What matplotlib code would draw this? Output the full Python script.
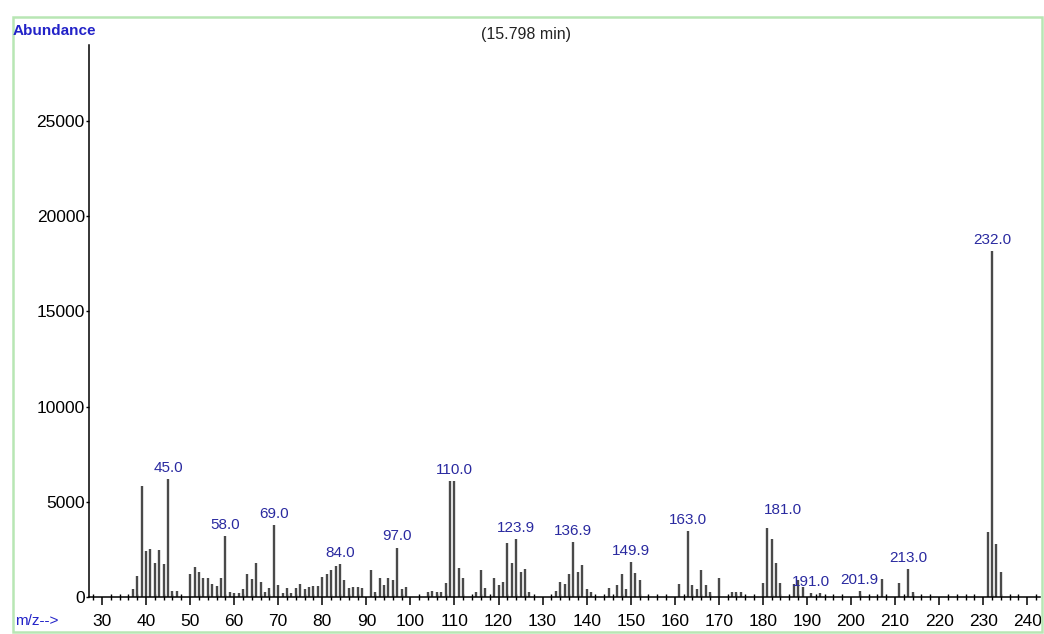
import matplotlib
matplotlib.use("Agg")
import matplotlib.pyplot as plt
from matplotlib.patches import Rectangle
from matplotlib.ticker import MultipleLocator

# mass spectrum at 15.798 min
mz = [37, 38, 39, 40, 41, 42, 43, 44, 45, 46, 47,
      50, 51, 52, 53, 54, 55, 56, 57, 58, 59, 60, 61, 62, 63, 64, 65, 66, 67, 68, 69,
      70, 71, 72, 73, 74, 75, 76, 77, 78, 79, 80, 81, 82, 83, 84, 85, 86, 87, 88, 89,
      91, 92, 93, 94, 95, 96, 97, 98, 99,
      104, 105, 106, 107, 108, 109, 110, 111, 112,
      115, 116, 117, 119, 120, 121, 122, 123, 124, 125, 126, 127,
      133, 134, 135, 136, 137, 138, 139, 140, 141,
      145, 147, 148, 149, 150, 151, 152,
      161, 163, 164, 165, 166, 167, 168, 170,
      173, 174, 175, 180, 181, 182, 183, 184,
      187, 188, 189, 191, 193,
      202, 207, 211, 213, 214,
      231, 232, 233, 234]
abundance = [420, 1100, 5830, 2420, 2520, 1770, 2470, 1730, 6200, 300, 300,
             1190, 1575, 1310, 1000, 1000, 680, 600, 1000, 3200, 250, 200, 200, 400, 1190, 950, 1790, 770, 250, 450, 3770,
             650, 200, 450, 200, 450, 700, 400, 500, 600, 600, 1050, 1200, 1400, 1650, 1730, 900, 450, 500, 500, 450,
             1420, 250, 1000, 650, 1000, 900, 2600, 400, 500,
             250, 300, 250, 250, 750, 6100, 6100, 1540, 1000,
             250, 1400, 450, 1000, 650, 800, 2850, 1760, 3060, 1310, 1460, 250,
             320, 800, 700, 1200, 2900, 1300, 1700, 400, 250,
             450, 650, 1200, 400, 1840, 1250, 900,
             700, 3480, 650, 400, 1400, 650, 250, 1000,
             250, 250, 250, 730, 3640, 3050, 1790, 730,
             700, 900, 500, 200, 200,
             300, 940, 750, 1450, 250,
             3430, 18190, 2780, 1310]

# labelled peaks
peak_mz = [45, 58, 69, 84, 97, 110, 124, 137, 150, 163, 181, 191, 202, 213, 232]
peak_text = ["45.0", "58.0", "69.0", "84.0", "97.0", "110.0", "123.9", "136.9",
             "149.9", "163.0", "181.0", "191.0", "201.9", "213.0", "232.0"]

plt.rcParams["font.family"] = ["Liberation Sans", "DejaVu Sans"]

W, H = 1044, 634
fig = plt.figure(figsize=(W / 100, H / 100), dpi=100)
fig.patch.set_facecolor("white")

# light green frame
fig.patches.append(Rectangle((13 / W, 2 / H), (1042 - 13) / W, (632 - 17) / H,
                             transform=fig.transFigure, fill=False,
                             edgecolor="#b8e6b4", linewidth=1.8))

ax = fig.add_axes([89 / W, 37 / H, (1040 - 89) / W, (597 - 45) / H])
ax.vlines(mz, 0, abundance, colors="#4a4a4a", linewidth=1.7)

ax.set_xlim(27.05, 242.9)
ax.set_ylim(0, 29000)

ax.spines["top"].set_visible(False)
ax.spines["right"].set_visible(False)
ax.spines["left"].set_linewidth(1.1)
ax.spines["bottom"].set_linewidth(1.1)

ax.set_xticks(range(30, 241, 10))
ax.xaxis.set_minor_locator(MultipleLocator(2))
ax.set_yticks([0, 5000, 10000, 15000, 20000, 25000])
ax.tick_params(axis="x", which="major", direction="out", length=6, width=1.1,
               labelsize=12.5, pad=6)
ax.tick_params(axis="x", which="minor", direction="inout", length=5, width=1.0)
ax.tick_params(axis="y", which="major", direction="out", length=2.5, width=1.0,
               labelsize=12.5, pad=0.5)

heights = dict(zip(mz, abundance))
for m, t in zip(peak_mz, peak_text):
    dx, dy = (0, 3)
    if t == "181.0":
        dx, dy = (11, 8)
    ax.annotate(t, (m, heights[m]), xytext=(dx, dy), textcoords="offset points",
                ha="center", va="bottom", fontsize=11, color="#2a2aa0")

fig.text(13 / W, 1 - 31 / H, "Abundance", ha="left", va="center",
         fontsize=11, fontweight="bold", color="#2323c8")
fig.text(15 / W, 1 - 621 / H, "m/z-->", ha="left", va="center",
         fontsize=11, color="#2323c8")
fig.text(526 / W, 1 - 35 / H, "(15.798 min)", ha="center", va="center",
         fontsize=11.5, color="#222222")

fig.savefig("out.png", dpi=100)
